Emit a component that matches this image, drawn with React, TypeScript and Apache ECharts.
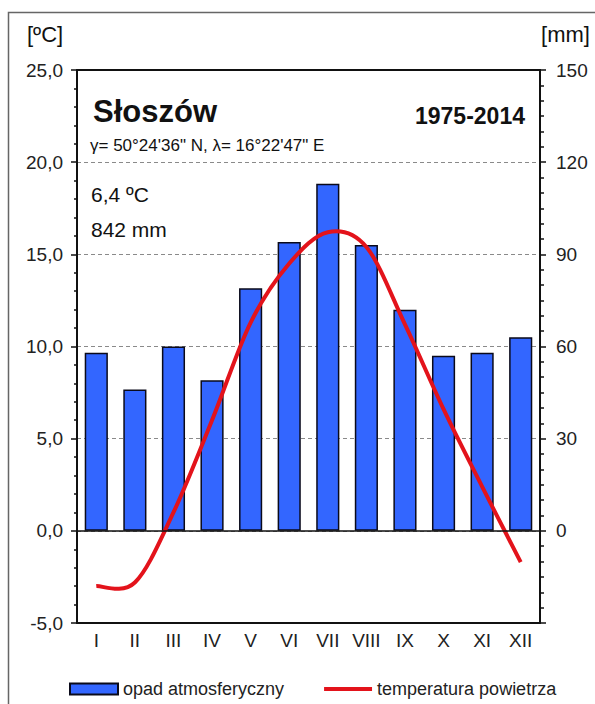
import React, { useEffect, useRef } from "react";
import * as echarts from "echarts";

const months = ["I", "II", "III", "IV", "V", "VI", "VII", "VIII", "IX", "X", "XI", "XII"];
const precipitation = [58, 46, 60, 49, 79, 94, 113, 93, 72, 57, 58, 63];
const temperature = [-3.0, -2.8, 1.0, 6.0, 11.3, 14.5, 16.2, 15.4, 11.2, 6.6, 2.4, -1.7];
const stationName = "Słoszów";
const period = "1975-2014";
const coords = "γ= 50°24'36\" N, λ= 16°22'47\" E";
const meanTemp = "6,4 ºC";
const totalPrecip = "842 mm";
const barName = "opad atmosferyczny";
const lineName = "temperatura powietrza";

const FONT = "'Liberation Sans', Arial, sans-serif";
const RED = "#E3131B";
const LINE_ICON =
  "path://M0,0 L48,0 L48,0.01 Z M0,3.5 L48,3.5 L48,7.5 L0,7.5 Z M0,11 L48,11 L48,11.01 Z";

// Catmull-Rom spline through the data points projected by the chart's own axes
function splinePath(pts: number[][]): string {
  const n = pts.length;
  let d = `M${pts[0][0]},${pts[0][1]}`;
  for (let i = 0; i < n - 1; i++) {
    const p0 = pts[Math.max(0, i - 1)];
    const p1 = pts[i];
    const p2 = pts[i + 1];
    const p3 = pts[Math.min(n - 1, i + 2)];
    const c1x = p1[0] + (p2[0] - p0[0]) / 6;
    const c1y = p1[1] + (p2[1] - p0[1]) / 6;
    const c2x = p2[0] - (p3[0] - p1[0]) / 6;
    const c2y = p2[1] - (p3[1] - p1[1]) / 6;
    d += ` C${c1x},${c1y} ${c2x},${c2y} ${p2[0]},${p2[1]}`;
  }
  return d;
}

export default function App() {
  const ref = useRef<HTMLDivElement>(null);
  useEffect(() => {
    if (!ref.current) return;
    const chart = echarts.init(ref.current, null, { renderer: "svg" });
    const txt = (x: number, y: number, text: string, size: number, bold = false, align = "left") => ({
      type: "text",
      x,
      y,
      silent: true,
      style: {
        text,
        fill: "#111",
        font: `${bold ? "bold " : ""}${size}px ${FONT}`,
        textAlign: align,
        textVerticalAlign: "middle",
        verticalAlign: "middle",
      },
    });
    chart.setOption({
      animation: false,
      backgroundColor: "#fff",
      textStyle: { fontFamily: FONT },
      grid: { left: 77, top: 70, right: 55, bottom: 81, containLabel: false },
      graphic: [
        {
          type: "rect",
          silent: true,
          shape: { x: 8.5, y: 12.5, width: 640, height: 740 },
          style: { fill: "none", stroke: "#666", lineWidth: 1.5 },
        },
        txt(27, 34, "[ºC]", 22),
        txt(590, 34, "[mm]", 22, false, "right"),
        txt(93, 111, stationName, 31, true),
        txt(525, 116, period, 23, true, "right"),
        txt(90, 145, coords, 17),
        txt(91, 194, meanTemp, 21),
        txt(91, 229, totalPrecip, 21),
      ],
      legend: {
        left: 64,
        top: 675,
        itemWidth: 48,
        itemHeight: 11,
        itemGap: 40,
        textStyle: { fontSize: 18, color: "#222", fontFamily: FONT },
        data: [
          { name: barName, icon: "rect" },
          { name: lineName, icon: LINE_ICON },
        ],
      },
      xAxis: [
        {
          type: "category",
          data: months,
          position: "bottom",
          z: 5,
          axisLine: { show: true, onZero: false, lineStyle: { color: "#111", width: 2 } },
          axisTick: { show: false },
          axisLabel: { fontSize: 19, color: "#222", margin: 8, fontFamily: FONT },
        },
        {
          type: "category",
          data: months,
          position: "top",
          z: 5,
          axisLine: { show: true, onZero: false, lineStyle: { color: "#111", width: 2 } },
          axisTick: { show: false },
          axisLabel: { show: false },
        },
      ],
      yAxis: [
        {
          type: "value",
          min: -5,
          max: 25,
          interval: 5,
          position: "left",
          axisLine: { show: true, lineStyle: { color: "#111", width: 2 } },
          axisTick: { show: true, length: 6, lineStyle: { color: "#111", width: 1.5 } },
          minorTick: { show: true, splitNumber: 5, length: 3, lineStyle: { color: "#111", width: 1.5 } },
          splitLine: { show: true, lineStyle: { color: "#8a8a8a", type: [4, 3], width: 1 } },
          axisLabel: {
            fontSize: 19,
            color: "#222",
            margin: 14,
            fontFamily: FONT,
            formatter: (v: number) => v.toFixed(1).replace(".", ","),
          },
        },
        {
          type: "value",
          min: -30,
          max: 150,
          interval: 30,
          position: "right",
          axisLine: { show: true, lineStyle: { color: "#111", width: 2 } },
          axisTick: { show: true, length: 6, lineStyle: { color: "#111", width: 1.5 } },
          minorTick: { show: true, splitNumber: 6, length: 4, lineStyle: { color: "#111", width: 1.5 } },
          splitLine: { show: false },
          axisLabel: {
            fontSize: 19,
            color: "#222",
            margin: 16,
            fontFamily: FONT,
            formatter: (v: number) => (v === -30 ? "" : String(v)),
          },
        },
      ],
      series: [
        {
          name: barName,
          type: "bar",
          yAxisIndex: 1,
          data: precipitation,
          barWidth: "60%",
          z: 2,
          itemStyle: { color: "#3366FF", borderColor: "#0a0a1a", borderWidth: 1.5 },
          markLine: {
            silent: true,
            symbol: "none",
            z: 6,
            label: { show: false },
            lineStyle: { color: "#111", width: 1.5, type: "solid" },
            data: [{ yAxis: 0 }],
          },
        },
        {
          name: lineName,
          type: "custom",
          xAxisIndex: 0,
          yAxisIndex: 0,
          data: temperature.map((v, i) => [i, v]),
          encode: { x: 0, y: 1 },
          clip: false,
          z: 4,
          itemStyle: { color: RED },
          renderItem: (params: any, api: any) => {
            if (params.dataIndex !== 0) return null;
            const pts = temperature.map((v, i) => api.coord([i, v]));
            return {
              type: "path",
              shape: { pathData: splinePath(pts) },
              style: { stroke: RED, lineWidth: 4, fill: "none", lineJoin: "round", lineCap: "butt" },
              silent: true,
            };
          },
        },
      ],
    });
    return () => chart.dispose();
  }, []);
  return (
    <div
      ref={ref}
      style={{ position: "fixed", left: 0, top: 0, width: 595, height: 704, background: "#fff" }}
    />
  );
}
